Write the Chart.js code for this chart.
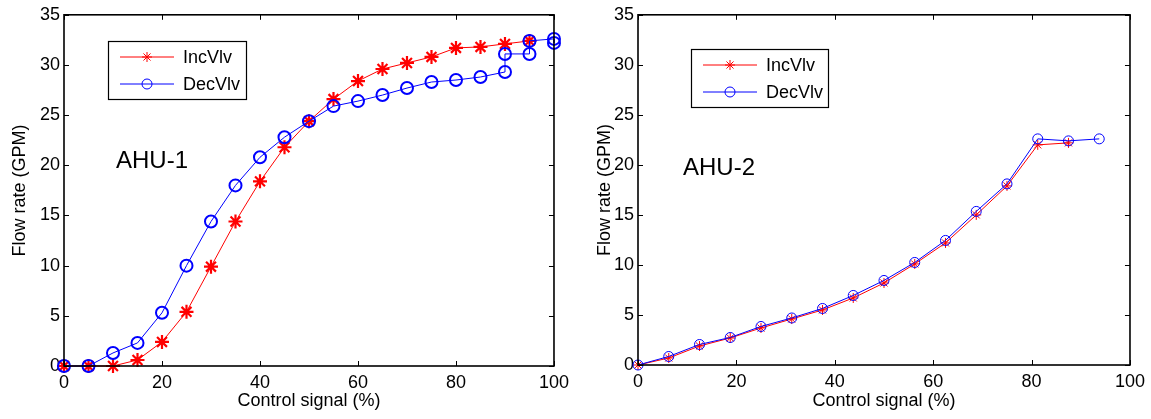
<!DOCTYPE html>
<html>
<head>
<meta charset="utf-8">
<title>Valve flow characteristics</title>
<script src="https://cdn.jsdelivr.net/npm/chart.js@4.4.0/dist/chart.umd.min.js"></script>
<style>
  html, body { margin: 0; padding: 0; background: #fff; }
  #wrap { position: relative; width: 1151px; height: 419px; overflow: hidden; }
  canvas { position: absolute; top: 0; }
  #ahu1 { left: 0; }
  #ahu2 { left: 575px; }
</style>
</head>
<body>
<div id="wrap">
  <canvas id="ahu1" width="575" height="419"></canvas>
  <canvas id="ahu2" width="576" height="419"></canvas>
</div>
<script>
// AHU-1 valve test: control signal (%) vs. flow rate (GPM)
const ahu1SignalInc = [0, 5, 10, 15, 20, 25, 30, 35, 40, 45, 50, 55, 60, 65, 70, 75, 80, 85, 90, 95];
const ahu1FlowInc   = [0, 0, 0, 0.6, 2.4, 5.4, 9.9, 14.4, 18.4, 21.8, 24.4, 26.6, 28.4, 29.6, 30.2, 30.8, 31.7, 31.8, 32.1, 32.4];
const ahu1SignalDec = [0, 5, 10, 15, 20, 25, 30, 35, 40, 45, 50, 55, 60, 65, 70, 75, 80, 85, 90, 90, 95, 95, 100, 100];
const ahu1FlowDec   = [0, 0, 1.3, 2.3, 5.3, 10.0, 14.4, 18.0, 20.8, 22.8, 24.4, 25.9, 26.4, 27.0, 27.7, 28.3, 28.5, 28.8, 29.3, 31.1, 31.1, 32.4, 32.6, 32.2];

// AHU-2 valve test
const ahu2SignalInc = [0, 6.25, 12.5, 18.75, 25, 31.25, 37.5, 43.75, 50, 56.25, 62.5, 68.75, 75, 81.25, 87.5];
const ahu2FlowInc   = [0, 0.7, 1.9, 2.7, 3.7, 4.6, 5.5, 6.7, 8.2, 10.1, 12.2, 15.0, 17.9, 22.0, 22.2];
const ahu2SignalDec = [0, 6.25, 12.5, 18.75, 25, 31.25, 37.5, 43.75, 50, 56.25, 62.5, 68.75, 75, 81.25, 87.5, 93.75];
const ahu2FlowDec   = [0, 0.85, 2.05, 2.75, 3.85, 4.7, 5.65, 6.95, 8.45, 10.25, 12.45, 15.35, 18.1, 22.6, 22.4, 22.6];

const seriesNames = ['IncVlv', 'DecVlv'];
const xTicks = [0, 20, 40, 60, 80, 100];
const yTicks = [0, 5, 10, 15, 20, 25, 30, 35];

const RED = '#ff0000';
const BLUE = '#0000ff';
const FONT = "'Liberation Sans', Arial, sans-serif";

Chart.defaults.font.family = FONT;
Chart.defaults.color = '#000';

function toPoints(xs, ys) {
    return xs.map((x, i) => ({ x: x, y: ys[i] }));
}

// draws one legend symbol: short line with a marker in the middle
function drawSymbol(ctx, style, color, x1, x2, y) {
    ctx.save();
    ctx.strokeStyle = color;
    ctx.lineWidth = 1;
    ctx.beginPath();
    ctx.moveTo(x1, y);
    ctx.lineTo(x2, y);
    ctx.stroke();
    const cx = (x1 + x2) / 2;
    const r = 5;
    ctx.beginPath();
    if (style === 'circle') {
        ctx.arc(cx, y, r, 0, Math.PI * 2);
    } else {
        const d = r * Math.SQRT1_2;
        ctx.moveTo(cx - r, y); ctx.lineTo(cx + r, y);
        ctx.moveTo(cx, y - r); ctx.lineTo(cx, y + r);
        ctx.moveTo(cx - d, y - d); ctx.lineTo(cx + d, y + d);
        ctx.moveTo(cx - d, y + d); ctx.lineTo(cx + d, y - d);
    }
    ctx.stroke();
    ctx.restore();
}

// box around the axes, inward tick marks, legend and panel label
const matlabFrame = {
    id: 'matlabFrame',
    afterDraw(chart, args, opts) {
        const ctx = chart.ctx;
        const a = chart.chartArea;
        const xs = chart.scales.x;
        const ys = chart.scales.y;
        const tl = 5;

        ctx.save();
        ctx.strokeStyle = '#000';
        ctx.lineWidth = 1.6;
        ctx.strokeRect(a.left, a.top, a.right - a.left, a.bottom - a.top);

        ctx.lineWidth = 1;
        ctx.beginPath();
        xs.ticks.forEach(t => {
            const px = Math.round(xs.getPixelForValue(t.value)) + 0.5;
            ctx.moveTo(px, a.bottom); ctx.lineTo(px, a.bottom - tl);
            ctx.moveTo(px, a.top); ctx.lineTo(px, a.top + tl);
        });
        ys.ticks.forEach(t => {
            const py = Math.round(ys.getPixelForValue(t.value)) + 0.5;
            ctx.moveTo(a.left, py); ctx.lineTo(a.left + tl, py);
            ctx.moveTo(a.right, py); ctx.lineTo(a.right - tl, py);
        });
        ctx.stroke();

        // legend
        const lg = opts.legend;
        ctx.fillStyle = '#fff';
        ctx.fillRect(lg.x, lg.y, lg.w, lg.h);
        ctx.lineWidth = 1.2;
        ctx.strokeRect(lg.x + 0.5, lg.y + 0.5, lg.w, lg.h);
        const items = chart.data.datasets.slice().sort((p, q) => p.legendIndex - q.legendIndex);
        ctx.font = '18px ' + FONT;
        ctx.textBaseline = 'middle';
        ctx.textAlign = 'left';
        items.forEach((ds, i) => {
            const rowY = lg.y + 16 + i * 27;
            drawSymbol(ctx, ds.pointStyle, ds.borderColor, lg.x + 12, lg.x + 66, rowY);
            ctx.fillStyle = '#000';
            ctx.fillText(ds.label, lg.x + 75, rowY + 1);
        });

        // panel label
        ctx.font = '24px ' + FONT;
        ctx.fillStyle = '#000';
        ctx.fillText(opts.label.text, opts.label.x, opts.label.y);
        ctx.restore();
    }
};

function makePanel(canvasId, incX, incY, decX, decY, layout) {
    const bold = layout.bold;
    return new Chart(document.getElementById(canvasId), {
        type: 'scatter',
        data: {
            datasets: [
                {
                    label: seriesNames[1],
                    legendIndex: 1,
                    data: toPoints(decX, decY),
                    showLine: true,
                    borderColor: BLUE,
                    backgroundColor: 'rgba(0,0,0,0)',
                    borderWidth: 1,
                    pointStyle: 'circle',
                    pointRadius: bold ? 6 : 5,
                    pointBorderWidth: bold ? 2 : 1,
                    pointBorderColor: BLUE,
                    pointBackgroundColor: 'rgba(0,0,0,0)',
                    clip: false,
                    order: 0
                },
                {
                    label: seriesNames[0],
                    legendIndex: 0,
                    data: toPoints(incX, incY),
                    showLine: true,
                    borderColor: RED,
                    backgroundColor: RED,
                    borderWidth: 1,
                    pointStyle: 'star',
                    pointRadius: bold ? 7 : 5,
                    pointBorderWidth: bold ? 2.2 : 1,
                    pointBorderColor: RED,
                    clip: false,
                    order: 1
                }
            ]
        },
        options: {
            responsive: false,
            animation: false,
            events: [],
            layout: { padding: { top: 14, right: layout.right, left: 0, bottom: 0 } },
            plugins: {
                legend: { display: false },
                tooltip: { enabled: false },
                matlabFrame: { legend: layout.legend, label: layout.label }
            },
            scales: {
                x: {
                    type: 'linear',
                    min: 0,
                    max: 100,
                    afterBuildTicks: s => { s.ticks = xTicks.map(v => ({ value: v })); },
                    ticks: { font: { size: 18 }, color: '#000', padding: 6, maxRotation: 0 },
                    grid: { display: false, drawTicks: false },
                    border: { display: false },
                    title: {
                        display: true,
                        text: 'Control signal (%)',
                        font: { size: 18 },
                        color: '#000',
                        padding: { top: 0, bottom: 7 }
                    },
                    afterFit: s => { s.height = layout.xHeight; }
                },
                y: {
                    type: 'linear',
                    min: 0,
                    max: 35,
                    afterBuildTicks: s => { s.ticks = yTicks.map(v => ({ value: v })); },
                    ticks: { font: { size: 18 }, color: '#000', padding: 4 },
                    grid: { display: false, drawTicks: false },
                    border: { display: false },
                    title: {
                        display: true,
                        text: 'Flow rate (GPM)',
                        font: { size: 18 },
                        color: '#000',
                        padding: { top: layout.yTitlePad, bottom: 0 }
                    },
                    afterFit: s => { s.width = layout.yWidth; }
                }
            }
        },
        plugins: [matlabFrame]
    });
}

makePanel('ahu1', ahu1SignalInc, ahu1FlowInc, ahu1SignalDec, ahu1FlowDec, {
    bold: true,
    right: 16,
    xHeight: 53,
    yWidth: 64,
    yTitlePad: 9,
    legend: { x: 108, y: 41, w: 138, h: 58 },
    label: { text: 'AHU-1', x: 116, y: 161 }
});

makePanel('ahu2', ahu2SignalInc, ahu2FlowInc, ahu2SignalDec, ahu2FlowDec, {
    bold: false,
    right: 19,
    xHeight: 54,
    yWidth: 63,
    yTitlePad: 19,
    legend: { x: 116, y: 49, w: 137, h: 58 },
    label: { text: 'AHU-2', x: 108, y: 168 }
});
</script>
</body>
</html>
